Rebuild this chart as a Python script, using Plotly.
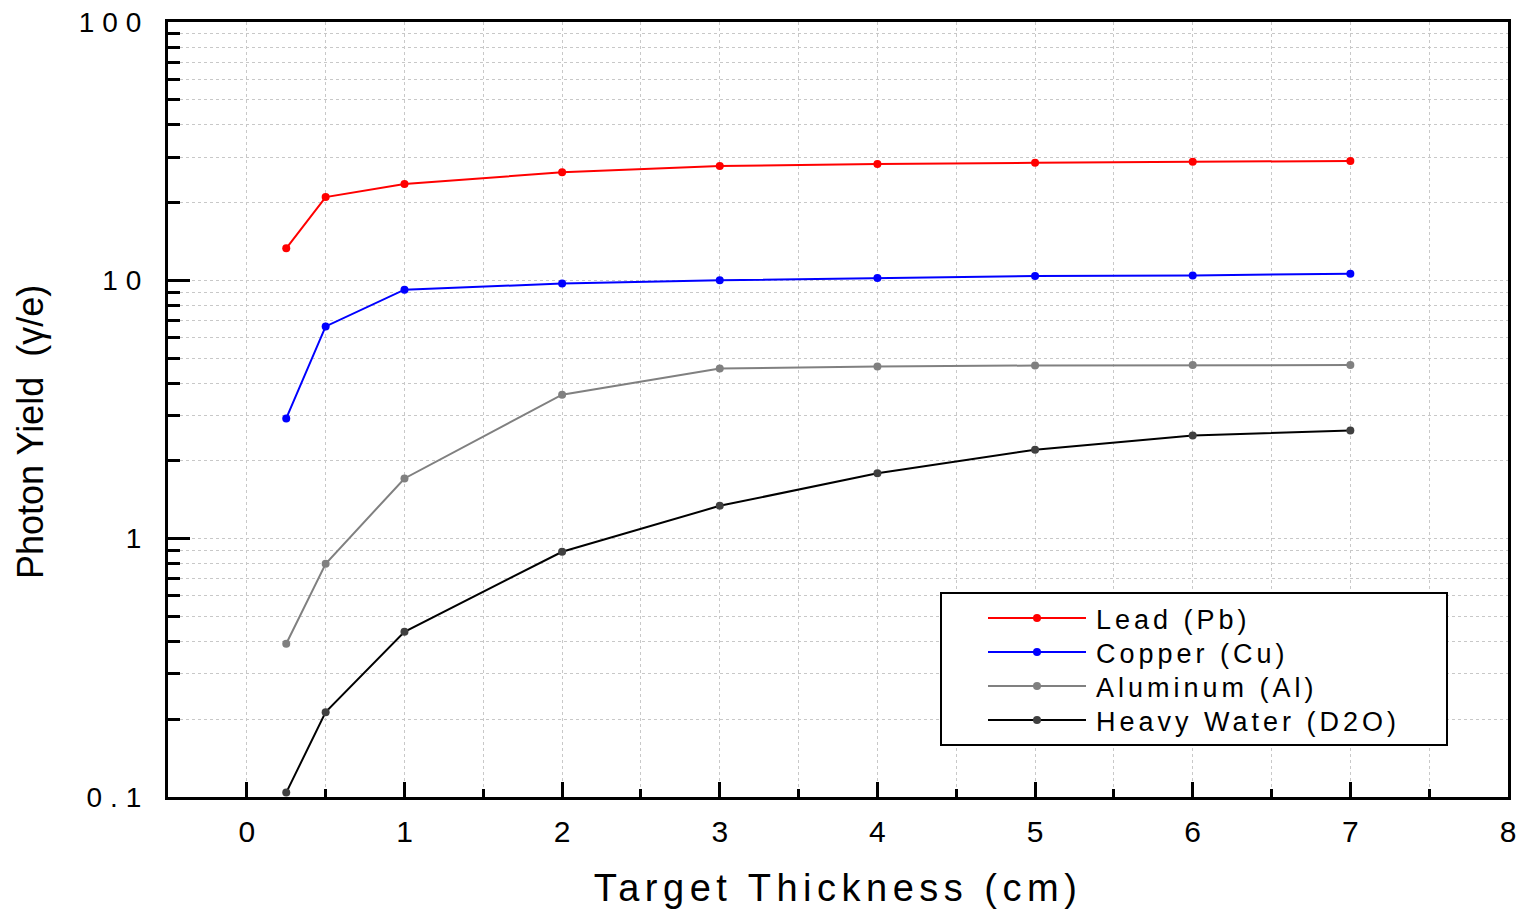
import plotly.graph_objects as go

thickness = [0.25, 0.5, 1, 2, 3, 4, 5, 6, 7]
lead = [13.3, 21.0, 23.6, 26.2, 27.7, 28.2, 28.5, 28.8, 29.0]
copper = [2.92, 6.63, 9.2, 9.72, 10.0, 10.2, 10.4, 10.45, 10.6]
aluminum = [0.392, 0.80, 1.71, 3.61, 4.56, 4.64, 4.68, 4.70, 4.70]
heavy_water = [0.104, 0.213, 0.436, 0.89, 1.34, 1.79, 2.21, 2.51, 2.62]

series = [
    ("Lead (Pb)", lead, "#ff0000", "#ff0000"),
    ("Copper (Cu)", copper, "#0000ff", "#0000ff"),
    ("Aluminum (Al)", aluminum, "#808080", "#808080"),
    ("Heavy Water (D2O)", heavy_water, "#000000", "#404040"),
]

y_tick_vals = [0.1, 1, 10, 100]
y_tick_text = ["0.1", "1", "10", "100"]
x_title = "Target Thickness (cm)"
y_title = "Photon Yield  (γ/e)"

FONT = "Liberation Sans, Arial, sans-serif"
GRID = "#c8c8c8"

fig = go.Figure()
for name, vals, lc, mc in series:
    fig.add_trace(go.Scatter(
        x=thickness, y=vals, name=name, mode="lines+markers",
        line=dict(color=lc, width=2),
        marker=dict(color=mc, size=8, symbol="circle"),
    ))

minor_y = [m * 10 ** e for e in (-1, 0, 1) for m in range(2, 10)]

fig.update_layout(
    width=1523, height=911,
    margin=dict(l=168, r=15, t=22, b=114),
    paper_bgcolor="white", plot_bgcolor="white",
    font=dict(family=FONT, color="black", size=28),
    showlegend=True,
    legend=dict(
        x=(940 - 168) / 1340, y=(797 - 592) / 775, xanchor="left", yanchor="top",
        bgcolor="white", bordercolor="black", borderwidth=2,
        font=dict(family=FONT, size=27, color="black"),
        itemwidth=98, tracegroupgap=0,
    ),
    xaxis=dict(
        range=[-0.5, 8], dtick=1, tick0=0, automargin=False,
        showline=True, linecolor="black", linewidth=3, mirror=True,
        ticks="inside", ticklen=15, tickwidth=3, tickcolor="black",
        showgrid=True, gridcolor=GRID, griddash="dot", gridwidth=1,
        zeroline=False,
        tickfont=dict(family=FONT, size=30),
        ticklabelstandoff=6,
        minor=dict(dtick=0.5, ticks="inside", ticklen=8, tickwidth=3,
                   tickcolor="black", showgrid=True, gridcolor=GRID,
                   griddash="dot", gridwidth=1),
        title=dict(text=x_title, font=dict(family=FONT, size=38), standoff=28),
    ),
    yaxis=dict(
        type="log", range=[-1, 2], automargin=False,
        tickvals=y_tick_vals, ticktext=y_tick_text,
        showline=True, linecolor="black", linewidth=3, mirror=True,
        ticks="inside", ticklen=22, tickwidth=3, tickcolor="black",
        showgrid=True, gridcolor=GRID, griddash="dot", gridwidth=1,
        zeroline=False,
        tickfont=dict(family=FONT, size=28),
        ticklabelstandoff=10,
        minor=dict(tickvals=minor_y, ticks="inside", ticklen=12, tickwidth=3,
                   tickcolor="black", showgrid=True, gridcolor=GRID,
                   griddash="dot", gridwidth=1),
    ),
    annotations=[dict(
        text=y_title, textangle=-90, xref="paper", yref="paper",
        x=(30 - 168) / 1340, y=(797 - 432) / 775, xanchor="center", yanchor="middle",
        showarrow=False, font=dict(family=FONT, size=36, color="black"),
    )],
)

post = """
var gd = document.getElementById('{plot_id}');
function spread(sel, ls){ gd.querySelectorAll(sel).forEach(function(t){ t.style.letterSpacing = ls; }); }
spread('.xtitle', '5.5px');
spread('.legendtext', '4px');
spread('.ytick text', '8px');
var sb = gd.querySelector('.legend .scrollbox');
if (sb) { sb.removeAttribute('clip-path'); }
var bg = gd.querySelector('.legend .bg');
if (bg) {
  bg.setAttribute('width', '506');
  bg.setAttribute('height', '152');
  var br = bg.getBoundingClientRect();
  var items = gd.querySelectorAll('.legend .traces');
  items.forEach(function(it, i){
    var ln = it.querySelector('.legendlines path') || it.querySelector('path');
    if (!ln) return;
    var lr = ln.getBoundingClientRect();
    var dx = 47 - (lr.left - br.left);
    var dy = (25 + 34 * i) - (lr.top + lr.height / 2 - br.top);
    var m = it.transform.baseVal.consolidate();
    var e = m ? m.matrix.e : 0, f = m ? m.matrix.f : 0;
    it.setAttribute('transform', 'translate(' + (e + dx) + ',' + (f + dy) + ')');
    var tx = it.querySelector('.legendtext');
    if (tx) { tx.setAttribute('x', (parseFloat(tx.getAttribute('x')) || 0) + 5); }
  });
}
"""

fig.write_html("out.html", post_script=post)
